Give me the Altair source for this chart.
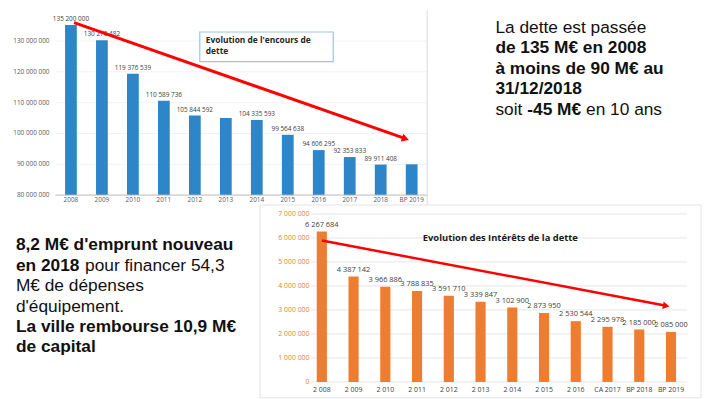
import altair as alt
import pandas as pd

# ---------------- data ----------------
top_years = ["2008", "2009", "2010", "2011", "2012", "2013", "2014", "2015",
             "2016", "2017", "2018", "BP 2019"]
top_values = [135200000, 130270482, 119376539, 110589736, 105844592, 105000000,
              104335593, 99564638, 94606295, 92353833, 89911408, 90000000]
top_unlabelled = ["2013", "BP 2019"]
top_ticks = [80000000, 90000000, 100000000, 110000000, 120000000, 130000000]
top_title = ["Evolution de l'encours de", "dette"]
top_trend_x = [0.1, 10.8]
top_trend_y = [136000000, 98300000]

bot_years = ["2 008", "2 009", "2 010", "2 011", "2 012", "2 013", "2 014",
             "2 015", "2 016", "CA 2017", "BP 2018", "BP 2019"]
bot_values = [6267684, 4387142, 3966886, 3788835, 3591710, 3339847, 3102900,
              2873950, 2530544, 2295978, 2185000, 2085000]
bot_ticks = [0, 1000000, 2000000, 3000000, 4000000, 5000000, 6000000, 7000000]
bot_title = "Evolution des Intérêts de la dette"
bot_trend_x = [0, 10.85]
bot_trend_y = [5890000, 3170000]

# text blocks: each line is a list of (text, bold, x offset)
tr_lines = [
    [("La dette est passée", False, 0)],
    [("de 135 M€ en 2008", True, 0)],
    [("à moins de 90 M€ au", True, 0)],
    [("31/12/2018", True, 0)],
    [("soit", False, 0), ("-45 M€", True, 32.3), ("en 10 ans", False, 91.7)],
]
bl_lines = [
    [("8,2 M€ d'emprunt nouveau", True, 0)],
    [("en 2018", True, 0), ("pour financer 54,3", False, 70)],
    [("M€ de dépenses", False, 0)],
    [("d'équipement.", False, 0)],
    [("La ville rembourse 10,9 M€", True, 0)],
    [("de capital", True, 0)],
]


def fmt(v):
    return f"{v:,}".replace(",", " ")


def tick_label(v):
    return fmt(v) if v else "0"


W, H = 702, 391
BLUE = "#2E86C8"
ORANGE = "#ED7D31"
RED = "#FF0000"
CFONT = "Open Sans"

top_df = pd.DataFrame({"year": top_years, "value": top_values})
top_df["label"] = [("" if y in top_unlabelled else fmt(v)) for y, v in zip(top_years, top_values)]
top_tick_df = pd.DataFrame({"tick": top_ticks, "label": [tick_label(t) for t in top_ticks]})
bot_df = pd.DataFrame({"year": bot_years, "value": bot_values, "label": [fmt(v) for v in bot_values]})
bot_tick_df = pd.DataFrame({"tick": bot_ticks, "label": [tick_label(t) for t in bot_ticks]})

# ---------------- scales ----------------
TX = alt.Scale(domain=top_years, range=[48, 424], paddingInner=0.62, paddingOuter=0.31)
TXQ = alt.Scale(domain=[0, 11], range=[63.67, 408.33], nice=False, zero=False)
TY = alt.Scale(domain=[80000000, 140000000], range=[187, 0], nice=False, zero=False)

BX = alt.Scale(domain=bot_years, range=[301.4, 686.7], paddingInner=0.68, paddingOuter=0.34)
BXQ = alt.Scale(domain=[0, 11], range=[317.5, 670.6], nice=False, zero=False)
BY = alt.Scale(domain=[0, 7000000], range=[376, 206], nice=False, zero=False)

layers = []

# ---------- top chart ----------
layers.append(
    alt.Chart(top_tick_df).mark_rule(color="#F2F2F2", strokeWidth=1).encode(
        y=alt.Y("tick:Q", scale=TY, axis=None), x=alt.value(48), x2=alt.value(424))
)
layers.append(
    alt.Chart(top_tick_df).mark_text(align="right", baseline="middle", font=CFONT,
                                     fontSize=6.5, color="#595959").encode(
        y=alt.Y("tick:Q", scale=TY, axis=None), x=alt.value(42), text="label:N")
)
layers.append(
    alt.Chart(top_df).mark_bar(color=BLUE).encode(
        x=alt.X("year:N", scale=TX, axis=None),
        y=alt.Y("value:Q", scale=TY, axis=None),
        y2=alt.datum(80000000))
)
layers.append(
    alt.Chart(top_df).mark_text(baseline="middle", dy=-6, font=CFONT, fontSize=6.5,
                                color="#404040").encode(
        x=alt.X("year:N", scale=TX, axis=None),
        y=alt.Y("value:Q", scale=TY, axis=None), text="label:N")
)
layers.append(
    alt.Chart(top_df).mark_text(baseline="middle", font=CFONT, fontSize=6.5,
                                color="#595959").encode(
        x=alt.X("year:N", scale=TX, axis=None), y=alt.value(192), text="year:N")
)
layers.append(
    alt.Chart(top_df.head(1)).mark_rule(color="#BFBFBF", strokeWidth=1).encode(
        x=alt.value(48), x2=alt.value(424), y=alt.value(187))
)
layers.append(
    alt.Chart(top_df.head(1)).mark_rule(color="#D9D9D9", strokeWidth=1).encode(
        x=alt.value(424), y=alt.value(0), y2=alt.value(197))
)
# title box
layers.append(
    alt.Chart(top_df.head(1)).mark_rect(fill="white", stroke="#9DC3E6", strokeWidth=1.2).encode(
        x=alt.value(194), x2=alt.value(329), y=alt.value(22), y2=alt.value(52))
)
for i, t in enumerate(top_title):
    layers.append(
        alt.Chart(pd.DataFrame({"t": [t]})).mark_text(
            align="left", baseline="middle", font=CFONT, fontSize=8.5, fontWeight="bold",
            color="#262626").encode(x=alt.value(200), y=alt.value(30 + 11 * i), text="t:N")
    )
# trend arrow
top_arrow = pd.DataFrame({"x": [top_trend_x[0]], "y": [top_trend_y[0]],
                          "x2": [top_trend_x[1]], "y2": [top_trend_y[1]]})
layers.append(
    alt.Chart(top_arrow).mark_rule(color=RED, strokeWidth=3).encode(
        x=alt.X("x:Q", scale=TXQ, axis=None), y=alt.Y("y:Q", scale=TY, axis=None),
        x2="x2:Q", y2="y2:Q")
)
layers.append(
    alt.Chart(top_arrow).mark_point(shape="triangle-right", angle=19, filled=True,
                                    size=70, color=RED, opacity=1).encode(
        x=alt.X("x2:Q", scale=TXQ, axis=None), y=alt.Y("y2:Q", scale=TY, axis=None))
)

# ---------- bottom chart ----------
layers.append(
    alt.Chart(bot_df.head(1)).mark_rect(fill="white", stroke="#E3E3E3", strokeWidth=1).encode(
        x=alt.value(255), x2=alt.value(701), y=alt.value(197), y2=alt.value(392))
)
layers.append(
    alt.Chart(bot_tick_df).mark_rule(color="#E6E6E6", strokeWidth=1).encode(
        y=alt.Y("tick:Q", scale=BY, axis=None), x=alt.value(307), x2=alt.value(687))
)
layers.append(
    alt.Chart(bot_tick_df).mark_text(align="right", baseline="middle", font=CFONT,
                                     fontSize=7, color=ORANGE).encode(
        y=alt.Y("tick:Q", scale=BY, axis=None), x=alt.value(305), text="label:N")
)
layers.append(
    alt.Chart(bot_df).mark_bar(color=ORANGE).encode(
        x=alt.X("year:N", scale=BX, axis=None),
        y=alt.Y("value:Q", scale=BY, axis=None),
        y2=alt.datum(0))
)
layers.append(
    alt.Chart(bot_df).mark_text(baseline="middle", dy=-7, font=CFONT, fontSize=7.5,
                                color="#404040").encode(
        x=alt.X("year:N", scale=BX, axis=None),
        y=alt.Y("value:Q", scale=BY, axis=None), text="label:N")
)
layers.append(
    alt.Chart(bot_df).mark_text(baseline="middle", font=CFONT, fontSize=7,
                                color="#404040").encode(
        x=alt.X("year:N", scale=BX, axis=None), y=alt.value(384), text="year:N")
)
layers.append(
    alt.Chart(pd.DataFrame({"t": [bot_title]})).mark_text(
        align="center", baseline="middle", font=CFONT, fontSize=9.5, fontWeight="bold",
        color="#1A1A1A").encode(x=alt.value(498), y=alt.value(230), text="t:N")
)
bot_arrow = pd.DataFrame({"x": [bot_trend_x[0]], "y": [bot_trend_y[0]],
                          "x2": [bot_trend_x[1]], "y2": [bot_trend_y[1]]})
layers.append(
    alt.Chart(bot_arrow).mark_rule(color=RED, strokeWidth=2.5).encode(
        x=alt.X("x:Q", scale=BXQ, axis=None), y=alt.Y("y:Q", scale=BY, axis=None),
        x2="x2:Q", y2="y2:Q")
)
layers.append(
    alt.Chart(bot_arrow).mark_point(shape="triangle-right", angle=10.6, filled=True,
                                    size=60, color=RED, opacity=1).encode(
        x=alt.X("x2:Q", scale=BXQ, axis=None), y=alt.Y("y2:Q", scale=BY, axis=None))
)


# ---------- text blocks ----------
def text_block(lines, x0, y0, step, size):
    out = []
    for i, segs in enumerate(lines):
        for txt, bold, dx in segs:
            out.append(
                alt.Chart(pd.DataFrame({"t": [txt]})).mark_text(
                    align="left", baseline="alphabetic", font="Liberation Sans",
                    fontSize=size, fontWeight=("bold" if bold else "normal"),
                    color="#111111").encode(
                    x=alt.value(x0 + dx), y=alt.value(y0 + i * step), text="t:N")
            )
    return out


layers += text_block(tr_lines, 493, 23, 20.7, 17.5)
layers += text_block(bl_lines, 8, 243, 20.6, 17.5)

chart = alt.layer(*layers).resolve_scale(x="independent", y="independent").properties(
    width=W, height=H, autosize=alt.AutoSizeParams(type="none"), padding=0,
    background="white"
).configure_view(strokeWidth=0)

chart.save("out.html", embed_options={"renderer": "svg", "actions": False})
